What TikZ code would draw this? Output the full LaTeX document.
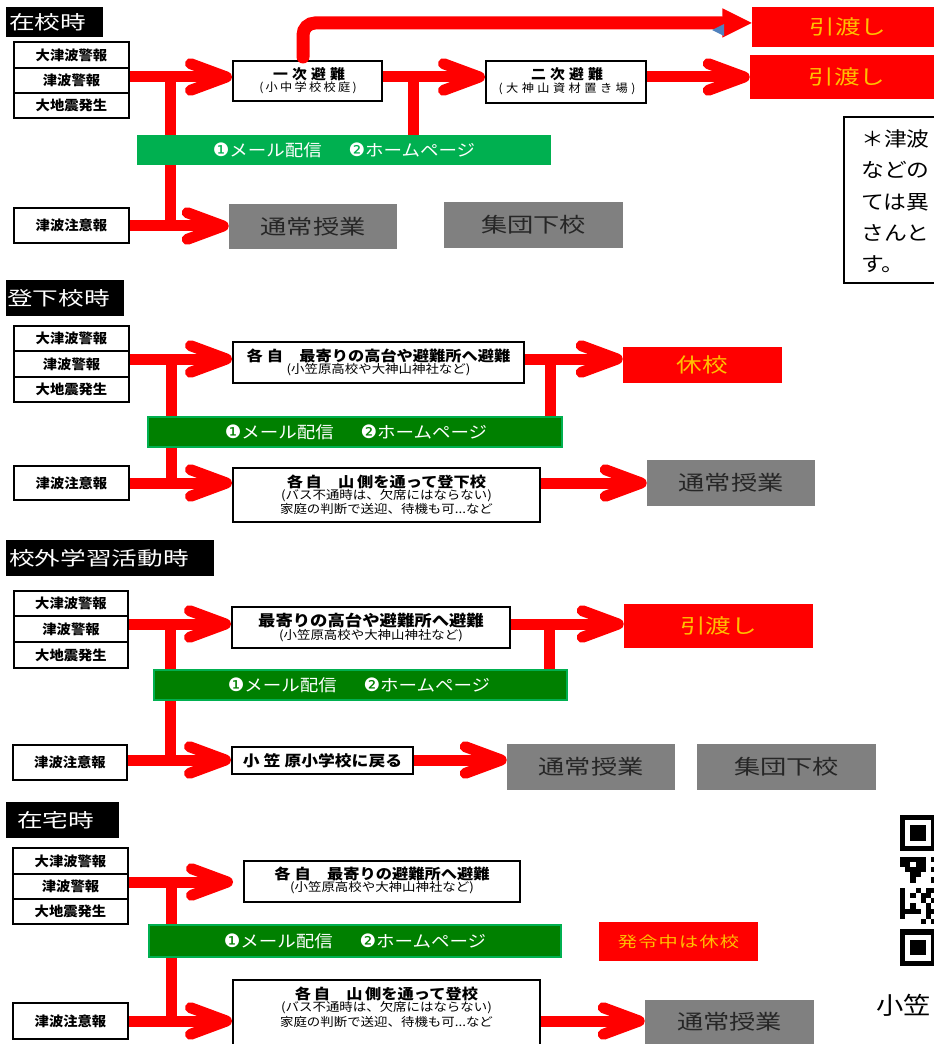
\documentclass[tikz,border=0pt]{standalone}
\usepackage{fontspec}
\setmainfont{Noto Sans CJK JP}
\newfontfamily\jpT[FakeStretch=1.35]{Noto Sans CJK JP}
\newfontfamily\jpG[FakeStretch=1.28]{Noto Sans CJK JP}
\newfontfamily\jpN[FakeStretch=1.12]{Noto Sans CJK JP}
\newfontfamily\jpS[FakeStretch=1.06]{Noto Sans CJK JP}
\newfontfamily\jpM[FakeStretch=1.14]{Noto Sans CJK JP}
\newfontfamily\dvs{DejaVu Sans}
\usetikzlibrary{arrows.meta}
\definecolor{grA}{HTML}{00B050}
\definecolor{grB}{HTML}{008000}
\definecolor{gryb}{HTML}{808080}
\definecolor{yel}{HTML}{FFC000}
\definecolor{bluet}{HTML}{4F81BD}
\definecolor{dtxt}{HTML}{262626}
\newcommand\fsz[1]{\fontsize{\fpeval{#1*0.75}}{\fpeval{#1*0.9}}\selectfont}
\newcommand\lsp[1]{\addfontfeature{LetterSpace=#1}}
\newcommand\cA{{\dvs\fsz{18.5}❶}}
\newcommand\cB{{\dvs\fsz{18.5}❷}}
\tikzset{
  rc/.style n args={4}{minimum width={(#3-#1)*0.75pt}, minimum height={(#4-#2)*0.75pt},
     at={({(#1+#3)/2},{(#2+#4)/2})}},
  redl/.style={draw=red, line width=8.25pt},
  arr/.style={-{Straight Barb[length=27pt,width=20pt,round]}},
  bx/.style={draw=black, line width=1.5pt, fill=white, inner sep=0pt},
  stk/.style={bx, font=\jpS\bfseries\fsz{13.5}},
  ttlbox/.style={fill=black, inner sep=0pt},
  ttltxt/.style={text=white, font=\jpT\fsz{19}, inner sep=0pt, anchor=west},
  gbarA/.style={fill=grA, inner sep=0pt},
  gbarB/.style={fill=grB, draw=grA, line width=1.5pt, inner sep=0pt},
  gtxt/.style={text=white, font=\jpN\fsz{16.5}, inner sep=0pt},
  gry/.style={fill=gryb, inner sep=0pt, text=dtxt, font=\jpG\fsz{20.5}},
  redbox/.style={fill=red, inner sep=0pt, text=yel, font=\jpG\fsz{20}},
  btl/.style={inner sep=0pt, font=\jpN\bfseries\fsz{14.5}},
  sbt/.style={inner sep=0pt, font=\jpN\fsz{12}},
  ntx/.style={inner sep=0pt, anchor=west, font=\jpM\fsz{20}},
}
\begin{document}
\begin{tikzpicture}[x=0.75pt,y=-0.75pt]
\useasboundingbox (0,0) rectangle (933,1044);
\fill[white] (0,0) rectangle (933,1044);

% ---------------- Section 1: 在校時 ----------------
\node[ttlbox, rc={6}{7}{103}{37}] (t1) {};
\node[ttltxt] (t1x) at (9,22) {在校時};
\node[stk, rc={14}{42}{129}{68}] (s1a) {大津波警報};
\node[stk, rc={14}{68}{129}{93}] (s1b) {津波警報};
\node[stk, rc={14}{93}{129}{118}] (s1c) {大地震発生};
\node[stk, rc={14}{208}{129}{243}] (s1d) {津波注意報};
\node[bx, rc={233}{61}{382}{101}] (n1) {};
\node[inner sep=0pt, font=\jpS\bfseries\fsz{14}] (n1t) at (309,74) {\lsp{30}一次避難};
\node[inner sep=0pt, font=\jpS\fsz{11.5}] (n1s) at (308,88) {\lsp{20}(小中学校校庭)};
\node[bx, rc={486}{61}{646}{103}] (n2) {};
\node[inner sep=0pt, font=\jpS\bfseries\fsz{14}] (n2t) at (567,74) {\lsp{30}二次避難};
\node[inner sep=0pt, font=\jpS\fsz{11.5}] (n2s) at (567,89) {\lsp{30}(大神山資材置き場)};
\node[redbox, rc={752}{7}{944}{47}] (r1) {引渡し};
\node[redbox, rc={750}{55}{944}{99}] (r2) {引渡し};
\node[gry, rc={229}{204}{397}{249}] (g1a) {通常授業};
\node[gry, rc={444}{202}{623}{248}] (g1b) {集団下校};
\node[draw=black, line width=1.5pt, inner sep=0pt, rc={844}{117}{965}{283}] (note) {};
\node[ntx] (note1) at (861,139) {＊津波};
\node[ntx] (note2) at (861,170) {などの};
\node[ntx] (note3) at (861,202) {ては異};
\node[ntx] (note4) at (861,233) {さんと};
\node[ntx] (note5) at (861,264) {す。};

\coordinate (j1a) at (170,77);
\coordinate (j1b) at (170,226);
\draw[redl, arr] (s1b.east |- j1a) -- (n1.west |- j1a);
\draw[redl] (j1a) -- (j1b);
\draw[redl, arr] (s1d.east |- j1b) -- (g1a.west |- j1b);
\coordinate (j2a) at (413,77);
\coordinate (j2b) at (413,150);
\draw[redl, arr] (n1.east |- j2a) -- (n2.west |- j2a);
\draw[redl] (j2a) -- (j2b);
\draw[redl, arr] (n2.east |- j2a) -- (r2.west |- j2a);
\coordinate (u0) at (303,57);
\draw[draw=red, line width=9.75pt, line cap=round, rounded corners=9pt,
  -{Triangle[length=22pt,width=22pt,line width=0pt]}] (u0) |- (r1.west |- 0,23);
\fill[bluet] (712,30) -- (724,24) -- (724,36) -- cycle;
\node[gbarA, rc={137}{135}{551}{165}] (gb1) {};
\node[gtxt] (gb1t) at (344,150) {\cA メール配信\hspace{20pt}\cB ホームページ};

% ---------------- Section 2: 登下校時 ----------------
\node[ttlbox, rc={6}{280}{124}{316}] (t2) {};
\node[ttltxt] (t2x) at (7,298) {登下校時};
\node[stk, rc={14}{326}{129}{351}] (s2a) {大津波警報};
\node[stk, rc={14}{351}{129}{377}] (s2b) {津波警報};
\node[stk, rc={14}{377}{129}{402}] (s2c) {大地震発生};
\node[stk, rc={14}{466}{129}{500}] (s2d) {津波注意報};
\node[bx, rc={233}{342}{524}{383}] (n3) {};
\node[btl] (n3t) at (378.5,356) {各\hspace{3pt}自　最寄りの高台や避難所へ避難};
\node[sbt] (n3s) at (378.5,370) {(小笠原高校や大神山神社など)};
\node[redbox, rc={623}{347}{782}{383}] (r3) {休校};
\node[bx, rc={233}{468}{540}{522}] (n4) {};
\node[btl] (n4t) at (386.5,482) {各\hspace{2pt}自　山\hspace{2pt}側を通って登下校};
\node[sbt] (n4s) at (386.5,495.5) {(バス不通時は、欠席にはならない)};
\node[sbt] (n4u) at (386.5,509) {家庭の判断で送迎、待機も可...など};
\node[gry, rc={647}{460}{815}{506}] (g2a) {通常授業};

\coordinate (j3a) at (171,359);
\coordinate (j3b) at (171,483);
\draw[redl, arr] (s2b.east |- j3a) -- (n3.west |- j3a);
\draw[redl] (j3a) -- (j3b);
\draw[redl, arr] (s2d.east |- j3b) -- (n4.west |- j3b);
\coordinate (j4a) at (550,359);
\coordinate (j4b) at (550,430);
\draw[redl, arr] (n3.east |- j4a) -- (r3.west |- j4a);
\draw[redl] (j4a) -- (j4b);
\draw[redl, arr] (n4.east |- j3b) -- (g2a.west |- j3b);
\node[gbarB, rc={148}{417}{562}{447}] (gb2) {};
\node[gtxt] (gb2t) at (356,432) {\cA メール配信\hspace{20pt}\cB ホームページ};

% ---------------- Section 3: 校外学習活動時 ----------------
\node[ttlbox, rc={6}{540}{214}{576}] (t3) {};
\node[ttltxt] (t3x) at (9,558) {校外学習活動時};
\node[stk, rc={14}{591}{128}{616}] (s3a) {大津波警報};
\node[stk, rc={14}{616}{128}{642}] (s3b) {津波警報};
\node[stk, rc={14}{642}{128}{668}] (s3c) {大地震発生};
\node[stk, rc={13}{745}{127}{780}] (s3d) {津波注意報};
\node[bx, rc={232}{607}{510}{648}] (n5) {};
\node[btl, font=\jpN\bfseries\fsz{15.5}] (n5t) at (371,621) {最寄りの高台や避難所へ避難};
\node[sbt] (n5s) at (371,636) {(小笠原高校や大神山神社など)};
\node[redbox, rc={624}{604}{813}{648}] (r4) {引渡し};
\node[bx, rc={232}{747}{413}{774}] (n6) {};
\node[btl, font=\jpN\bfseries\fsz{15}] (n6t) at (322.5,760.5) {小\hspace{3pt}笠\hspace{3pt}原小学校に戻る};
\node[gry, rc={507}{744}{675}{790}] (g3a) {通常授業};
\node[gry, rc={697}{744}{876}{790}] (g3b) {集団下校};

\coordinate (j5a) at (170,624);
\coordinate (j5b) at (170,760);
\draw[redl, arr] (s3b.east |- j5a) -- (n5.west |- j5a);
\draw[redl] (j5a) -- (j5b);
\draw[redl, arr] (s3d.east |- j5b) -- (n6.west |- j5b);
\coordinate (j6a) at (549,624);
\coordinate (j6b) at (549,685);
\draw[redl, arr] (n5.east |- j6a) -- (r4.west |- j6a);
\draw[redl] (j6a) -- (j6b);
\draw[redl, arr] (n6.east |- j5b) -- (g3a.west |- j5b);
\node[gbarB, rc={154}{670}{567}{700}] (gb3) {};
\node[gtxt] (gb3t) at (359,685) {\cA メール配信\hspace{20pt}\cB ホームページ};

% ---------------- Section 4: 在宅時 ----------------
\node[ttlbox, rc={6}{802}{119}{838}] (t4) {};
\node[ttltxt] (t4x) at (17,820) {在宅時};
\node[stk, rc={13}{848}{128}{874}] (s4a) {大津波警報};
\node[stk, rc={13}{874}{128}{899}] (s4b) {津波警報};
\node[stk, rc={13}{899}{128}{924}] (s4c) {大地震発生};
\node[stk, rc={13}{1003}{128}{1039}] (s4d) {津波注意報};
\node[bx, rc={244}{861}{520}{902}] (n7) {};
\node[btl] (n7t) at (382,874) {各\hspace{3pt}自　最寄りの避難所へ避難};
\node[sbt] (n7s) at (382,888) {(小笠原高校や大神山神社など)};
\coordinate (a7) at (233,882);
\node[redbox, font=\jpG\fsz{15}, rc={599}{922}{758}{961}] (r5) {\lsp{8}発令中は休校};
\node[bx, rc={233}{980}{540}{1052}] (n8) {};
\node[btl] (n8t) at (386.5,994) {各\hspace{2pt}自　山\hspace{2pt}側を通って登校};
\node[sbt] (n8s) at (386.5,1008) {(バス不通時は、欠席にはならない)};
\node[sbt] (n8u) at (386.5,1022) {家庭の判断で送迎、待機も可...など};
\node[gry, rc={645}{1000}{814}{1044}] (g4a) {通常授業};

\coordinate (j7a) at (171,882);
\coordinate (j7b) at (171,1021);
\draw[redl, arr] (s4b.east |- j7a) -- (a7);
\draw[redl] (j7a) -- (j7b);
\draw[redl, arr] (s4d.east |- j7b) -- (n8.west |- j7b);
\draw[redl, arr] (n8.east |- j7b) -- (g4a.west |- j7b);
\node[gbarB, rc={149}{925}{561}{957}] (gb4) {};
\node[gtxt] (gb4t) at (355,941) {\cA メール配信\hspace{20pt}\cB ホームページ};

% ---------------- QR code (clipped) ----------------
\fill[black] (900,815) rectangle ++(36.4,36.4);
\fill[white] (905.2,820.2) rectangle ++(26,26);
\fill[black] (910.4,825.4) rectangle ++(15.6,15.6);
\fill[black] (900,929.4) rectangle ++(36.4,36.4);
\fill[white] (905.2,934.6) rectangle ++(26,26);
\fill[black] (910.4,939.8) rectangle ++(15.6,15.6);
\foreach \c/\r in {0/8,1/8,2/8,3/8,4/8,6/8, 0/9,1/9,3/9,4/9, 1/10,2/10,3/10,4/10,6/10,
  2/11,3/11, 2/12,6/12, 0/14,3/14,5/14,6/14, 0/15,2/15,4/15,5/15, 0/16,4/16,6/16,
  0/17,2/17,5/17, 0/18,1/18,2/18,3/18,5/18,6/18, 0/19,5/19, 4/20,6/20}
  \fill[black] (900+\c*5.2,815+\r*5.2) rectangle ++(5.2,5.2);
\node[inner sep=0pt, anchor=west, font=\jpM\fsz{24}] (qrt) at (876,1005) {小笠};
\end{tikzpicture}
\end{document}
